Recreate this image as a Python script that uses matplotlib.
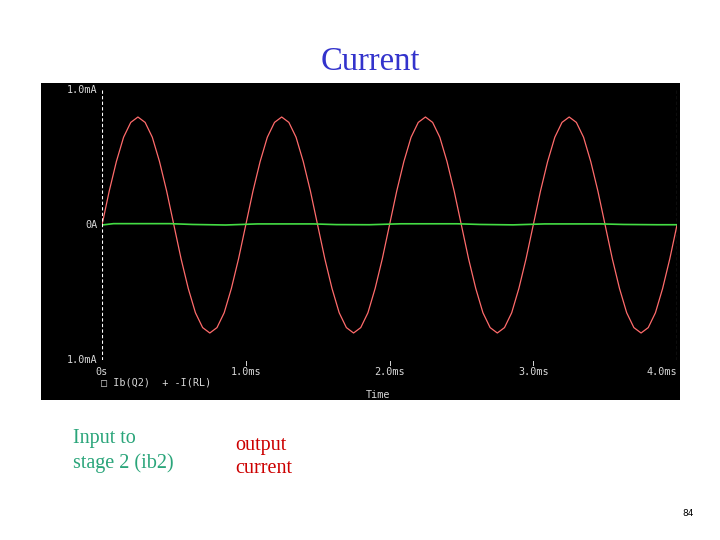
import matplotlib.pyplot as plt

# time in ms, currents in mA
t_ms = [0.00, 0.05, 0.10, 0.15, 0.20, 0.25, 0.30, 0.35, 0.40, 0.45,
        0.50, 0.55, 0.60, 0.65, 0.70, 0.75, 0.80, 0.85, 0.90, 0.95,
        1.00, 1.05, 1.10, 1.15, 1.20, 1.25, 1.30, 1.35, 1.40, 1.45,
        1.50, 1.55, 1.60, 1.65, 1.70, 1.75, 1.80, 1.85, 1.90, 1.95,
        2.00, 2.05, 2.10, 2.15, 2.20, 2.25, 2.30, 2.35, 2.40, 2.45,
        2.50, 2.55, 2.60, 2.65, 2.70, 2.75, 2.80, 2.85, 2.90, 2.95,
        3.00, 3.05, 3.10, 3.15, 3.20, 3.25, 3.30, 3.35, 3.40, 3.45,
        3.50, 3.55, 3.60, 3.65, 3.70, 3.75, 3.80, 3.85, 3.90, 3.95,
        4.00]
i_rl = [0.00, 0.25, 0.47, 0.65, 0.76, 0.80, 0.76, 0.65, 0.47, 0.25,
        0.00, -0.25, -0.47, -0.65, -0.76, -0.80, -0.76, -0.65, -0.47, -0.25,
        0.00, 0.25, 0.47, 0.65, 0.76, 0.80, 0.76, 0.65, 0.47, 0.25,
        0.00, -0.25, -0.47, -0.65, -0.76, -0.80, -0.76, -0.65, -0.47, -0.25,
        0.00, 0.25, 0.47, 0.65, 0.76, 0.80, 0.76, 0.65, 0.47, 0.25,
        0.00, -0.25, -0.47, -0.65, -0.76, -0.80, -0.76, -0.65, -0.47, -0.25,
        0.00, 0.25, 0.47, 0.65, 0.76, 0.80, 0.76, 0.65, 0.47, 0.25,
        0.00, -0.25, -0.47, -0.65, -0.76, -0.80, -0.76, -0.65, -0.47, -0.25,
        0.00]

tb_ms = [0.00, 0.08, 0.47, 0.63, 0.86, 1.08, 1.47, 1.63, 1.86, 2.08,
         2.47, 2.63, 2.86, 3.08, 3.47, 3.63, 3.86, 4.00]
i_b2 = [0.000, 0.010, 0.010, 0.004, 0.000, 0.008, 0.008, 0.003, 0.002, 0.009,
        0.009, 0.004, 0.001, 0.008, 0.008, 0.004, 0.002, 0.002]

y_ticks = [1.0, 0.0, -1.0]
y_labels = ['1.0mA', '0A', '1.0mA']
x_ticks = [0, 1, 2, 3, 4]
x_labels = ['0s', '1.0ms', '2.0ms', '3.0ms', '4.0ms']

fig = plt.figure(figsize=(7.2, 5.4), dpi=100)
fig.patch.set_facecolor('white')

# black probe screen
bg = fig.add_axes([41 / 720, 1 - 400 / 540, 639 / 720, 317 / 540])
bg.set_facecolor('black')
bg.set_xticks([])
bg.set_yticks([])
for s in bg.spines.values():
    s.set_visible(False)

ax = fig.add_axes([102 / 720, 1 - 360 / 540, 575 / 720, 270 / 540])
ax.patch.set_alpha(0)
ax.set_xlim(0, 4.0)
ax.set_ylim(-1.0, 1.0)
ax.axis('off')

ax.plot(t_ms, i_rl, color='#ff6b6b', lw=0.9)
ax.plot(tb_ms, i_b2, color='#44dd44', lw=1.2)

dash = (0, (3, 2))
ax.axvline(0, color='white', lw=0.8, ls=dash)
ax.axvline(4.0, color='white', lw=0.8, ls=dash)

mono = dict(family='DejaVu Sans Mono', fontsize=7.3, color='#d8d8d8')
for v, lab in zip(y_ticks, y_labels):
    ax.text(-0.03, v, lab, ha='right', va='center', **mono)
for v, lab in zip(x_ticks, x_labels):
    if 0 < v < 4:
        ax.plot([v, v], [-1.01, -1.04], color='#d8d8d8', lw=0.7, clip_on=False)
    ha = 'right' if v == 4 else 'center'
    ax.text(v, -1.09, lab, ha=ha, va='center', **mono)

ax.text(-0.01, -1.17, '\u25a1 Ib(Q2)  + -I(RL)', ha='left', va='center', **mono)
ax.text(1.92, -1.26, 'Time', ha='center', va='center', **mono)

fig.text(370 / 720, 1 - 62 / 540, 'Current', ha='center', va='center',
         family='Liberation Serif', fontsize=23.5, color='#3333cc')
fig.text(73 / 720, 1 - 451 / 540, 'Input to\nstage 2 (ib2)', ha='left', va='center',
         family='Liberation Serif', fontsize=14.5, color='#2aa57a', linespacing=1.3)
fig.text(235 / 720, 1 - 457 / 540, 'output\ncurrent', ha='left', va='center',
         family='Liberation Serif', fontsize=14.5, color='#cc0000', linespacing=1.3)
fig.text(688 / 720, 1 - 513 / 540, '84', ha='center', va='center',
         family='DejaVu Sans', fontsize=6.5, color='black')

plt.savefig('out.png', dpi=100)
